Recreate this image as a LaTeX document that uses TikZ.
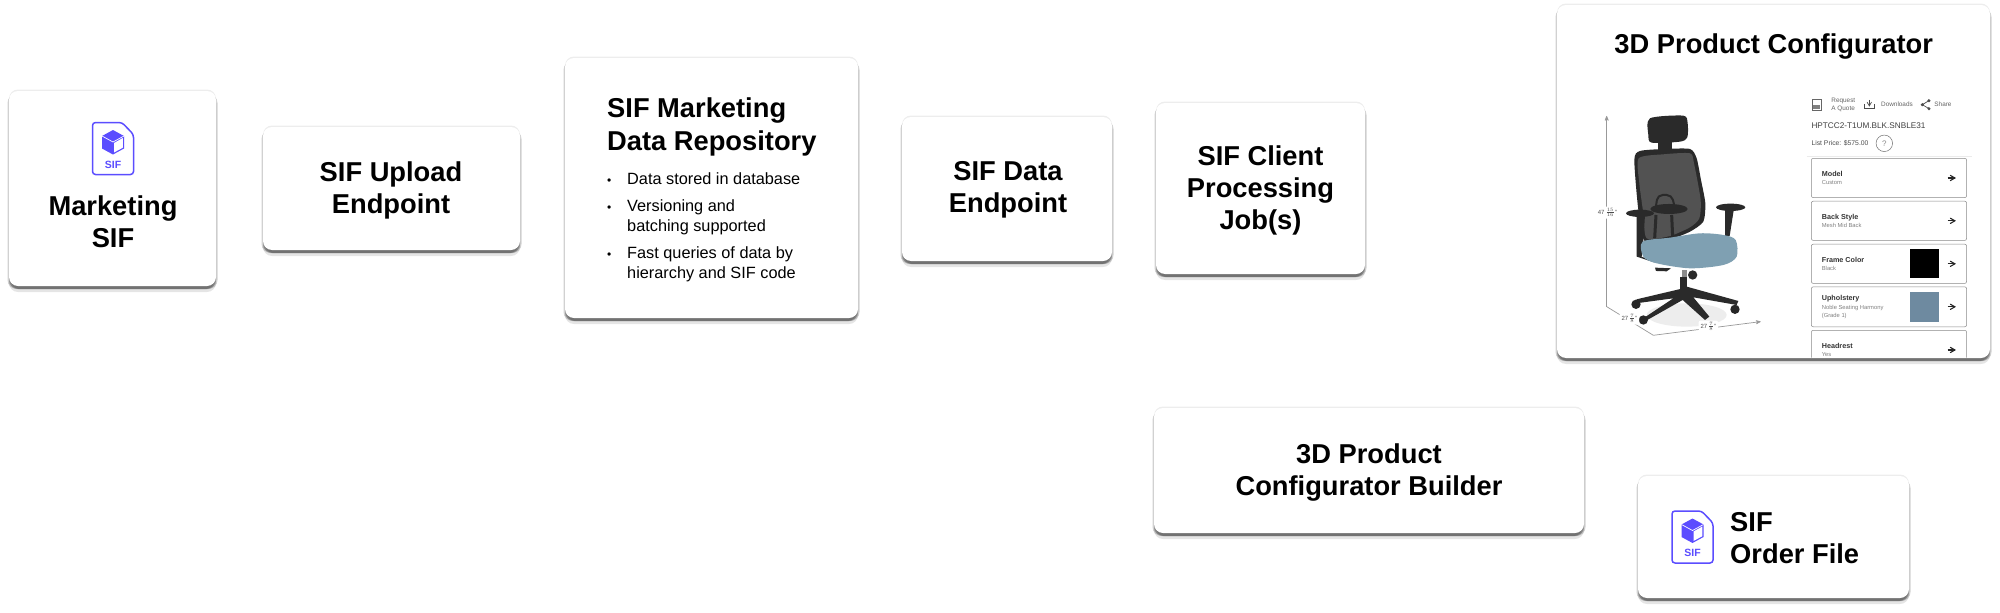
\documentclass[tikz,border=0pt]{standalone}
\usepackage{fontspec}
\setmainfont{Liberation Sans}
\usetikzlibrary{positioning}
\usetikzlibrary{arrows}
\usetikzlibrary{shadows}
\definecolor{sifblue}{HTML}{5B4DFF}
\definecolor{seatblue}{HTML}{7FA0B2}
\definecolor{swatchblue}{HTML}{6E8AA0}
\definecolor{chairdark}{HTML}{2A2A2A}
\definecolor{rowline}{HTML}{8A8A8A}
\tikzset{card/.style={rectangle, rounded corners=9pt, fill=white, inner sep=0pt,
      drop shadow={shadow xshift=0pt, shadow yshift=1.5pt, opacity=.07, fill=black},
      drop shadow={shadow xshift=0pt, shadow yshift=-6pt, opacity=.10, fill=black},
      drop shadow={shadow xshift=-1.5pt, shadow yshift=-3pt, opacity=.18, fill=black},
      drop shadow={shadow xshift=1.5pt, shadow yshift=-3pt, opacity=.18, fill=black},
      drop shadow={shadow xshift=0pt, shadow yshift=-3pt, opacity=.38, fill=black!80}},
      heading/.style={inner sep=0pt, align=left, font=\fontsize{27.3}{32}\selectfont\bfseries},
      optrow/.style={rectangle, draw=rowline, rounded corners=2pt, fill=white, line width=.5pt,
      inner sep=0pt, minimum width=155.3pt, minimum height=39.3pt},
      rowhead/.style={inner sep=0pt, anchor=west, font=\fontsize{7.2}{8}\selectfont\bfseries, text=black!80},
      rowsub/.style={inner sep=0pt, anchor=west, align=left, font=\fontsize{5.8}{8}\selectfont, text=black!50},
      toptext/.style={inner sep=0pt, align=left, font=\fontsize{6.4}{8.5}\selectfont, text=black!60},
      dimtag/.style={fill=white, rounded corners=2pt, inner sep=2pt, font=\fontsize{6}{7}\selectfont, text=black!70},
      dimline/.style={draw=black!40, line width=.7pt},
      rowarrow/.style={->, >=angle 60, line width=1.1pt, black!85}}
\tikzset{sificon/.pic={
      \draw[sifblue, line width=1.5pt, rounded corners=3pt, fill=white]
        (-20.5,-26) -- (9,-26) -- (20.5,-14) -- (20.5,26) -- (-20.5,26) -- cycle;
      \fill[sifblue] (0,-18.5) -- (11,-12.5) -- (11,0) -- (0,6) -- (-11,0) -- (-11,-12.5) -- cycle;
      \fill[white] (1,-5.5) -- (9.8,-10.5) -- (9.8,-.8) -- (1,4) -- cycle;
      \draw[white, line width=.7pt] (-11,-12.5) -- (0,-6.5) -- (11,-12.5);
      \node[inner sep=0pt, text=sifblue, font=\fontsize{10.5}{11}\selectfont\bfseries] (-label) at (0,16) {SIF};
}}

\begin{document}
\begin{tikzpicture}[x=1pt,y=-1pt]
\useasboundingbox (0,0) rectangle (2000,613);

\node[card, minimum width=207pt, minimum height=195pt] (marketing) at (112.5,188.5) {};
\node[card, minimum width=257pt, minimum height=123pt] (upload) at (391.5,188.5) {};
\node[card, minimum width=293pt, minimum height=260pt] (repo) at (711.5,188) {};
\node[card, minimum width=210pt, minimum height=144pt] (dataend) at (1007,189) {};
\node[card, minimum width=209pt, minimum height=171pt] (client) at (1260.5,188.5) {};
\node[card, minimum width=433pt, minimum height=353pt] (config) at (1773.5,181.5) {};
\node[card, minimum width=430pt, minimum height=125pt] (builder) at (1369,470.5) {};
\node[card, minimum width=271pt, minimum height=122pt] (order) at (1773.5,537) {};

% plain cards
\node[heading, align=center] (uploadtext) at (391,190) {SIF Upload\\Endpoint};
\node[heading, align=center] (dataendtext) at (1008,190) {SIF Data\\Endpoint};
\node[heading, align=center] (clienttext) at (1260.5,190) {SIF Client\\Processing\\Job(s)};
\node[heading, align=center] (buildertext) at (1369,472) {3D Product\\Configurator Builder};

% marketing card
\pic (mkticon) at (113,148.5) {sificon};
\node[heading, align=center] (mkttext) at (113,222) {Marketing\\SIF};

% repository card
\node[heading, anchor=north west, font=\fontsize{27.3}{33}\selectfont\bfseries] (repotitle) at (607,98) {SIF Marketing\\Data Repository};
\node[inner sep=0pt, anchor=north west, font=\fontsize{16.3}{20}\selectfont] (repolist) at (607,170)
  {\begin{tabular}{@{}p{20pt}@{}l@{}}
   {\fontsize{12}{10}\selectfont\textbullet} & Data stored in database\\[7pt]
   {\fontsize{12}{10}\selectfont\textbullet} & Versioning and\\
               & batching supported\\[7pt]
   {\fontsize{12}{10}\selectfont\textbullet} & Fast queries of data by\\
               & hierarchy and SIF code
   \end{tabular}};

% order file card
\pic (ordericon) at (1692.5,537) {sificon};
\node[heading, anchor=west] (ordertext) at (1730,538.5) {SIF\\Order File};

% configurator card, in the units of a 3x crop
\node[heading, align=center] (configtitle) at (1773.7,47) {3D Product Configurator};
\begin{scope}[shift={(1540,0)}, x=.3333pt, y=-.3333pt]
  \clip[rounded corners=9pt] (52,15) rectangle (1350,1073);

  % floor shade
  \fill[black!7] (440,945) ellipse (120 and 35);

  % dimension lines
  \coordinate (dimtop) at (200,348);
  \coordinate (dimback) at (200,920);
  \coordinate (dimfront) at (340,1006);
  \coordinate (dimend) at (662,965);
  \draw[dimline, <-, >=stealth'] (dimtop) -- (dimback);
  \draw[dimline] (dimback) -- (dimfront);
  \draw[dimline, ->, >=stealth'] (dimfront) -- (dimend);

  \begin{scope}[shift={(150,300)}]
    % base
    \fill[chairdark] (280,565) -- (140,598) -- (138,610) -- (250,595) -- (160,655) -- (172,660) -- (278,600)
       -- (345,660) -- (358,650) -- (310,592) -- (440,615) -- (445,603) -- (290,560) -- cycle;
    \fill[chairdark] (270,530) rectangle (292,585);
    \fill[black!45] (275,510) rectangle (292,532);
    \fill[chairdark] (308,525) circle (14);
    \foreach \wx/\wy/\wname in {138/613/a, 160/660/b, 435/628/c}
      \fill[black!85] (\wx,\wy) circle (14);
    \fill[chairdark] (195,503) -- (243,505) -- (230,514) -- (198,513) -- cycle;
    % headrest
    \fill[chairdark] (205,120) rectangle (245,155);
    \fill[chairdark] plot[smooth cycle, tension=.45] coordinates {(180,55) (280,47) (293,70) (292,112) (270,125) (185,128) (175,105)};
    % back
    \fill[chairdark] plot[smooth cycle, tension=.4] coordinates {(133,180) (150,153) (225,147) (300,147) (320,175) (333,240) (346,310) (340,365) (300,395) (240,418) (165,425) (145,330)};
    \fill[black!68] plot[smooth cycle, tension=.4] coordinates {(146,175) (220,163) (300,160) (312,190) (332,300) (328,355) (300,382) (240,408) (170,415) (160,340) (148,250)};
    % lumbar
    \draw[chairdark, line width=2pt, rounded corners=5pt] (197,325) -- (203,285) -- (245,285) -- (255,325);
    \draw[chairdark, line width=3pt] (198,345) -- (194,415) (245,345) -- (248,410);
    \fill[chairdark] (237,327) ellipse (56 and 15);
    % frame side and arms
    \fill[chairdark] (140,345) -- (165,345) -- (160,425) -- (155,470) -- (195,488) -- (140,470) -- cycle;
    \fill[chairdark] (150,340) ellipse (42 and 11);
    \fill[chairdark] (405,325) -- (432,325) -- (419,408) -- (405,408) -- cycle;
    \fill[chairdark] (422,322) ellipse (44 and 11);
    % seat
    \fill[seatblue] plot[smooth cycle, tension=.5] coordinates {(158,425) (240,413) (330,400) (400,405) (437,420) (440,470) (400,495) (300,505) (200,490) (160,470)};
  \end{scope}

  \node[dimtag] (dimheight) at (202,638) {47\,$\frac{15}{16}$"};
  \node[dimtag] (dimdepth) at (268,956) {27\,$\frac{7}{8}$"};
  \node[dimtag] (dimwidth) at (505,980) {27\,$\frac{7}{8}$"};

  % action bar
  \draw[black!60, line width=.6pt] (817,298) rectangle (843,330);
  \fill[black!50] (820,316) rectangle (840,327);
  \node[toptext] (quote) at (910,314) {Request\\A Quote};
  \draw[black!70, line width=.7pt] (974,312) -- (974,326) -- (1002,326) -- (1002,312);
  \draw[black!70, line width=.7pt, ->, >=angle 60] (988,300) -- (988,320);
  \node[toptext] (downloads) at (1071,314) {Downloads};
  \draw[black!70, line width=.7pt] (1167,302) -- (1147,314) -- (1167,326);
  \foreach \sx/\sy in {1167/302, 1147/314, 1167/326}
    \fill[black!70] (\sx,\sy) circle (5);
  \node[toptext] (share) at (1209,314) {Share};
  \node[inner sep=0pt, anchor=west, font=\fontsize{8.2}{9}\selectfont, text=black!75] (sku) at (814,378) {HPTCC2-T1UM.BLK.SNBLE31};
  \node[inner sep=0pt, anchor=west, font=\fontsize{6.8}{7}\selectfont, text=black!70] (price) at (814,429) {List Price: \$575.00};
  \node[circle, draw=black!55, line width=.5pt, inner sep=0pt, minimum size=16.5pt, font=\fontsize{8}{9}\selectfont, text=black!45] (help) at (1033,430) {?};
  \draw[black!8, line width=.5pt] (800,469) -- (1295,469);

  % option rows
  \node[optrow] (rowmodel) at (1047,534) {};
  \node[optrow] (rowback) at (1047,662.5) {};
  \node[optrow] (rowframe) at (1047,791.5) {};
  \node[optrow, minimum height=40pt] (rowuphol) at (1047,920.5) {};
  \node[optrow] (rowhead) at (1047,1050) {};

  \foreach \rowname/\rowy/\rowtitle/\rowsubtext in {model/534/Model/Custom, back/662.5/Back Style/Mesh Mid Back, frame/791.5/Frame Color/Black, head/1050/Headrest/Yes}{
    \node[rowhead] (title\rowname) at (845,\rowy-11) {\rowtitle};
    \node[rowsub] (sub\rowname) at (845,\rowy+15) {\rowsubtext};
  }
  \node[rowhead] (titleuphol) at (845,897) {Upholstery};
  \node[rowsub] (subuphol) at (845,936) {Noble Seating Harmony\\(Grade 1)};

  \foreach \rowname/\rowy in {model/534, back/662.5, frame/791.5, uphol/920.5, head/1050}{
    \coordinate (tail\rowname) at (1223,\rowy);
    \coordinate (tip\rowname) at (1248,\rowy);
    \draw[rowarrow] (tail\rowname) -- (tip\rowname);
  }

  % swatches
  \fill[black] (1110,748) rectangle (1197,835);
  \fill[swatchblue] (1110,877) rectangle (1197,965);
\end{scope}
\end{tikzpicture}
\end{document}
